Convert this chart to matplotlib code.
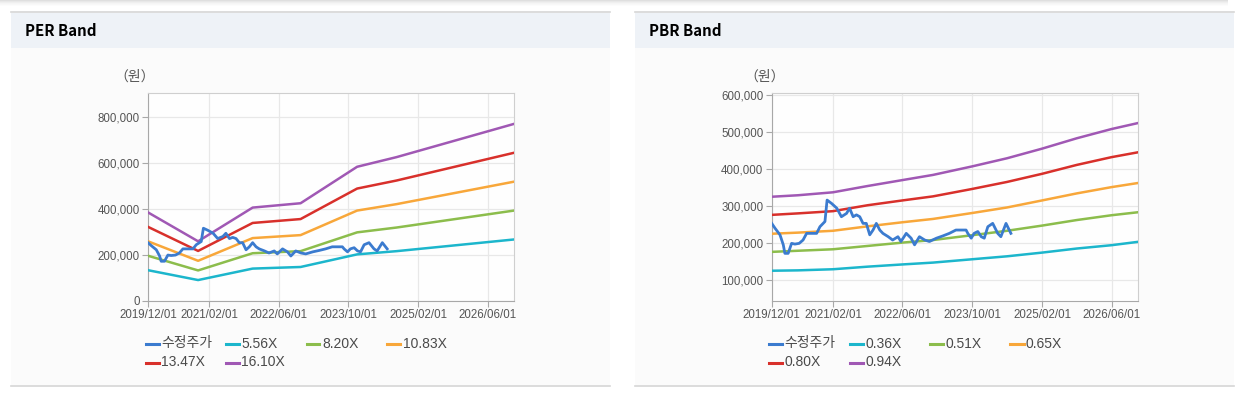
import pandas as pd
import matplotlib
matplotlib.use("Agg")
import matplotlib.pyplot as plt
import matplotlib.dates as mdates
from matplotlib.patches import Rectangle
from matplotlib.lines import Line2D
from matplotlib.ticker import FuncFormatter

plt.rcParams['font.family'] = ['Liberation Sans', 'Noto Sans CJK KR']

W, H = 1242, 393

# 수정주가 (두 차트 공통)
price_dates = ['2019-12-01', '2019-12-24', '2020-01-28', '2020-02-20', '2020-03-02',
               '2020-03-25', '2020-04-18', '2020-05-11', '2020-06-10', '2020-07-07',
               '2020-08-01', '2020-10-10', '2020-11-02', '2020-12-07', '2020-12-22',
               '2021-01-22', '2021-02-28', '2021-04-01', '2021-05-07', '2021-05-28',
               '2021-06-22', '2021-07-15', '2021-08-07', '2021-08-30', '2021-09-22',
               '2021-10-16', '2021-11-08', '2021-12-01', '2021-12-25', '2022-01-16',
               '2022-02-22', '2022-03-25', '2022-05-01', '2022-05-22', '2022-06-28',
               '2022-08-01', '2022-08-25', '2022-09-28', '2022-11-04', '2022-12-07',
               '2023-01-25', '2023-03-10', '2023-04-25', '2023-06-10', '2023-08-20',
               '2023-09-01', '2023-09-25', '2023-10-15', '2023-11-10', '2023-12-04',
               '2023-12-25', '2024-01-19', '2024-02-22', '2024-03-28', '2024-04-19',
               '2024-05-25', '2024-06-28']
price = [253000, 240000, 222000, 195000, 172000, 172000, 199000, 197000, 199000, 208000,
         226000, 226000, 244000, 258000, 316000, 307000, 294000, 271000, 280000, 294000,
         271000, 276000, 271000, 253000, 253000, 222000, 235000, 253000, 235000, 226000,
         217000, 208000, 217000, 204000, 226000, 213000, 195000, 217000, 208000, 204000,
         213000, 219000, 226000, 235000, 235000, 226000, 213000, 226000, 231000, 217000,
         213000, 244000, 253000, 226000, 217000, 253000, 226000]

# PER 밴드
per_dates = ['2019-12-01', '2020-11-15', '2021-12-01', '2022-11-01',
             '2023-12-01', '2024-09-01', '2026-12-01']
per_labels = ['5.56X', '8.20X', '10.83X', '13.47X', '16.10X']
per_556 = [133000, 90000, 140000, 147000, 202000, 216000, 267000]
per_820 = [196000, 132000, 207000, 216000, 298000, 319000, 393000]
per_1083 = [259000, 174000, 273000, 286000, 393000, 421000, 519000]
per_1347 = [322000, 217000, 339000, 356000, 489000, 524000, 645000]
per_1610 = [385000, 259000, 406000, 425000, 584000, 626000, 771000]

# PBR 밴드
pbr_dates = ['2019-12-01', '2020-06-01', '2021-02-01', '2021-10-01', '2022-06-01',
             '2023-01-01', '2023-10-01', '2024-06-01', '2025-02-01', '2025-10-01',
             '2026-06-01', '2026-12-01']
pbr_labels = ['0.36X', '0.51X', '0.65X', '0.80X', '0.94X']
pbr_036 = [125000, 126000, 129000, 136000, 142000, 147000, 156000, 164000, 174000, 185000, 194000, 203000]
pbr_051 = [176000, 179000, 183000, 192000, 201000, 208000, 221000, 233000, 247000, 262000, 275000, 283000]
pbr_065 = [225000, 228000, 233000, 245000, 256000, 265000, 281000, 296000, 315000, 334000, 351000, 362000]
pbr_080 = [276000, 280000, 286000, 302000, 315000, 326000, 346000, 365000, 387000, 411000, 432000, 445000]
pbr_094 = [325000, 329000, 337000, 354000, 370000, 384000, 407000, 429000, 455000, 483000, 508000, 524000]

x_ticks = ['2019/12/01', '2021/02/01', '2022/06/01', '2023/10/01', '2025/02/01', '2026/06/01']
x_end = '2026/12/01'

price_color = '#3b7bcf'
band_colors = ['#1cb6cc', '#8cbd4c', '#f8a73a', '#d8302b', '#a058b4']


def fx(x):
    return x / W


def fy(y):
    return 1 - y / H


def panel(fig, x0, x1, title):
    # 헤더 + 본문 배경
    fig.add_artist(Rectangle((fx(x0), fy(386)), fx(x1) - fx(x0), fy(12) - fy(386),
                             transform=fig.transFigure, facecolor='#fbfbfb', edgecolor='none', zorder=0))
    fig.add_artist(Rectangle((fx(x0), fy(47.5)), fx(x1) - fx(x0), fy(12.5) - fy(47.5),
                             transform=fig.transFigure, facecolor='#eef2f7', edgecolor='none', zorder=0))
    fig.add_artist(Line2D([fx(x0), fx(x1)], [fy(12), fy(12)], transform=fig.transFigure,
                          color='#d6d6d6', lw=1.2))
    fig.add_artist(Line2D([fx(x0), fx(x1)], [fy(386), fy(386)], transform=fig.transFigure,
                          color='#d6d6d6', lw=1.2))
    fig.text(fx(x0 + 14), fy(31), title, fontsize=10.8, fontweight='bold',
             family=['Noto Sans CJK KR'], va='center', ha='left', color='black')


def draw_band(ax, dates, bands, ylim, yticks):
    d = pd.to_datetime(dates)
    for vals, c in zip(bands, band_colors):
        ax.plot(d, vals, color=c, lw=1.8, zorder=3)
    ax.plot(pd.to_datetime(price_dates), price, color=price_color, lw=2.0, zorder=4)
    ax.set_xlim(pd.to_datetime(x_ticks[0]), pd.to_datetime(x_end))
    ax.set_ylim(*ylim)
    ax.set_xticks(pd.to_datetime(x_ticks))
    ax.xaxis.set_major_formatter(mdates.DateFormatter('%Y/%m/%d'))
    ax.set_yticks(yticks)
    ax.yaxis.set_major_formatter(FuncFormatter(lambda v, p: f'{int(v):,}'))
    ax.grid(True, color='#e8e8e8', lw=0.9)
    ax.set_axisbelow(True)
    ax.set_facecolor('#fefefe')
    for s in ['left', 'bottom']:
        ax.spines[s].set_color('#a8a8a8')
    for s in ['top', 'right']:
        ax.spines[s].set_color('#cfcfcf')
    ax.tick_params(axis='both', labelsize=8.3, colors='#a8a8a8', labelcolor='#555555',
                   length=4, width=0.8)
    ax.tick_params(axis='x', pad=2)
    ax.tick_params(axis='y', pad=2)


def draw_legend(fig, x0, labels):
    names = ['수정주가'] + labels
    colors = [price_color] + band_colors
    for i, (n, c) in enumerate(zip(names, colors)):
        col, row = i % 4, i // 4
        hx = x0 + col * 80.5
        hy = 343.5 + row * 19
        fig.add_artist(Line2D([fx(hx), fx(hx + 13)], [fy(hy), fy(hy)],
                              transform=fig.transFigure, color=c, lw=2.2))
        fig.text(fx(hx + 15.5), fy(hy), n, fontsize=10, color='#4a4a4a',
                 va='center', ha='left')


fig = plt.figure(figsize=(W / 100, H / 100), dpi=100)
fig.patch.set_facecolor('white')

# 상단 그림자
for i, a in enumerate([0.25, 0.18, 0.12, 0.08, 0.05, 0.025]):
    fig.add_artist(Rectangle((0, fy(i + 1)), fx(1228), fy(i) - fy(i + 1),
                             transform=fig.transFigure, facecolor='#808080', alpha=a,
                             edgecolor='none', zorder=0))

panel(fig, 11, 610, 'PER Band')
panel(fig, 635, 1234, 'PBR Band')

ax1 = fig.add_axes([fx(148), fy(300.7), fx(514) - fx(148), fy(92.7) - fy(300.7)])
draw_band(ax1, per_dates, [per_556, per_820, per_1083, per_1347, per_1610],
          (0, 907000), [0, 200000, 400000, 600000, 800000])

ax2 = fig.add_axes([fx(771.7), fy(300.7), fx(1137.7) - fx(771.7), fy(93.3) - fy(300.7)])
draw_band(ax2, pbr_dates, [pbr_036, pbr_051, pbr_065, pbr_080, pbr_094],
          (44000, 604600), [100000, 200000, 300000, 400000, 500000, 600000])

fig.text(fx(135), fy(77), '（원）', fontsize=10, color='#555555', ha='center', va='center',
         family=['Noto Sans CJK KR'])
fig.text(fx(765), fy(77), '（원）', fontsize=10, color='#555555', ha='center', va='center',
         family=['Noto Sans CJK KR'])

draw_legend(fig, 145.5, per_labels)
draw_legend(fig, 769, pbr_labels)

fig.savefig('out.png', dpi=100, facecolor='white')
